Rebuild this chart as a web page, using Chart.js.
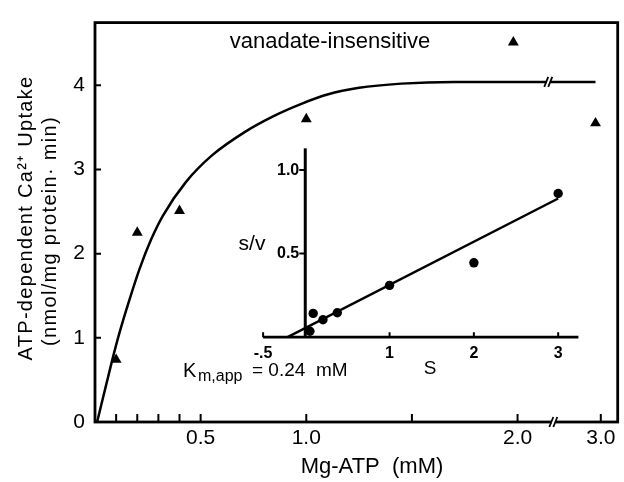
<!DOCTYPE html>
<html>
<head>
<meta charset="utf-8">
<script src="https://cdn.jsdelivr.net/npm/chart.js@4.4.0/dist/chart.umd.min.js"></script>
<style>
  html, body { margin: 0; padding: 0; background: #fff; }
</style>
</head>
<body>
<canvas id="uptake" width="624" height="482"></canvas>
<script>
// main plot : Mg-ATP (mM) vs ATP-dependent Ca2+ uptake
var mgAtp = [0.1, 0.2, 0.4, 1.0, 1.98, 2.95];
var uptake = [0.74, 2.25, 2.51, 3.60, 4.51, 3.55];

// hand drawn saturation curve
var curveX = [0.01, 0.078, 0.117, 0.164, 0.211, 0.266, 0.321, 0.43, 0.555, 0.712, 0.85, 0.977, 1.1, 1.25, 1.45, 1.7, 2.0, 2.95];
var curveY = [0, 0.70, 1.07, 1.46, 1.82, 2.17, 2.45, 2.85, 3.17, 3.45, 3.64, 3.78, 3.89, 3.97, 4.02, 4.04, 4.04, 4.04];

// inset : s/v against s
var insetS = [0.055, 0.094, 0.21, 0.38, 1.0, 2.0, 3.0];
var insetSV = [0.035, 0.142, 0.104, 0.146, 0.31, 0.445, 0.86];
var fitS = [-0.21, 3.0];
var fitSV = [0, 0.83];

// ticks
var xTicks = [0.1, 0.2, 0.3, 0.4, 0.5, 1.0, 1.5, 2.0, 3.0];
var xTickLabels = ['', '', '', '', '0.5', '1.0', '', '2.0', '3.0'];
var yTicks = [0, 1, 2, 3, 4];
var insetXTicks = [-0.5, 1, 2, 3];
var insetXLabels = ['-.5', '1', '2', '3'];
var insetYTicks = [0.5, 1.0];
var insetYLabels = ['0.5', '1.0'];

var FONT = "'Liberation Sans', Arial, sans-serif";

// the x axis is broken between 2.0 and 3.0
function brk(v) {
    return v > 2.2 ? 2.394 + (v - 3) * 0.5 : v;
}

var curvePts = [];
for (let i = 0; i < curveX.length; i++) {
    curvePts.push({ x: brk(curveX[i]), y: curveY[i] });
}
var triPts = [];
for (let i = 0; i < mgAtp.length; i++) {
    triPts.push({ x: brk(mgAtp[i]), y: uptake[i] });
}
var dotPts = [];
for (let i = 0; i < insetS.length; i++) {
    dotPts.push({ x: insetS[i], y: insetSV[i] });
}
var fitPts = [];
for (let i = 0; i < fitS.length; i++) {
    fitPts.push({ x: fitS[i], y: fitSV[i] });
}

function breakMark(ctx, x, y) {
    ctx.fillStyle = '#fff';
    ctx.fillRect(x - 2.5, y - 2.5, 4, 5);
    ctx.lineWidth = 1.8;
    ctx.beginPath();
    ctx.moveTo(x - 5, y + 5); ctx.lineTo(x - 1, y - 5);
    ctx.moveTo(x - 1, y + 5); ctx.lineTo(x + 3, y - 5);
    ctx.stroke();
}

var drawExtras = {
    id: 'drawExtras',
    afterDatasetsDraw: function (chart) {
        var ctx = chart.ctx;
        var a = chart.chartArea;
        var sx = chart.scales.x, sy = chart.scales.y;
        var ix = chart.scales.x2, iy = chart.scales.y2;
        ctx.save();
        ctx.strokeStyle = '#000';
        ctx.fillStyle = '#000';

        // frame
        ctx.lineWidth = 2.8;
        ctx.strokeRect(a.left, a.top, a.right - a.left, a.bottom - a.top);

        // inward ticks
        ctx.lineWidth = 2;
        ctx.beginPath();
        for (let i = 1; i < yTicks.length; i++) {
            var py = sy.getPixelForValue(yTicks[i]);
            ctx.moveTo(a.left, py); ctx.lineTo(a.left + 6, py);
        }
        for (let i = 0; i < xTicks.length; i++) {
            var px = sx.getPixelForValue(brk(xTicks[i]));
            ctx.moveTo(px, a.bottom); ctx.lineTo(px, a.bottom - 8);
        }
        ctx.stroke();

        // axis break and curve break
        breakMark(ctx, sx.getPixelForValue(2.174), a.bottom);
        breakMark(ctx, sx.getPixelForValue(2.15), sy.getPixelForValue(4.04));

        // inset axes
        var x0 = ix.getPixelForValue(0), y0 = iy.getPixelForValue(0);
        ctx.lineWidth = 3;
        ctx.beginPath();
        ctx.moveTo(x0, y0); ctx.lineTo(x0, iy.getPixelForValue(1.13));
        ctx.stroke();
        ctx.lineWidth = 2.7;
        ctx.beginPath();
        ctx.moveTo(ix.getPixelForValue(-0.5), y0); ctx.lineTo(ix.getPixelForValue(3.24), y0);
        ctx.stroke();
        ctx.lineWidth = 2;
        ctx.beginPath();
        for (let i = 0; i < insetXTicks.length; i++) {
            var tx = ix.getPixelForValue(insetXTicks[i]);
            ctx.moveTo(tx, y0); ctx.lineTo(tx, y0 - 5);
        }
        for (let i = 0; i < insetYTicks.length; i++) {
            var ty = iy.getPixelForValue(insetYTicks[i]);
            ctx.moveTo(x0 - 6, ty); ctx.lineTo(x0, ty);
        }
        ctx.stroke();

        ctx.fillStyle = '#000';
        ctx.textBaseline = 'middle';
        ctx.font = 'bold 16px ' + FONT;
        ctx.textAlign = 'center';
        for (let i = 0; i < insetXTicks.length; i++) {
            ctx.fillText(insetXLabels[i], ix.getPixelForValue(insetXTicks[i]), y0 + 16);
        }
        ctx.textAlign = 'right';
        for (let i = 0; i < insetYTicks.length; i++) {
            ctx.fillText(insetYLabels[i], x0 - 6, iy.getPixelForValue(insetYTicks[i]));
        }

        // texts
        ctx.textAlign = 'center';
        ctx.font = '21px ' + FONT;
        ctx.fillText('s/v', 252, 244);
        ctx.font = '22px ' + FONT;
        ctx.fillText('vanadate-insensitive', 330, 42);
        ctx.fillText('Mg-ATP  (mM)', 372, 467);
        ctx.font = '19px ' + FONT;
        ctx.fillText('S', 430, 369);

        ctx.textAlign = 'left';
        ctx.textBaseline = 'alphabetic';
        ctx.font = '20px ' + FONT;
        ctx.fillText('K', 183, 377);
        ctx.font = '16px ' + FONT;
        ctx.fillText('m,app', 198, 381);
        ctx.font = '19px ' + FONT;
        ctx.fillText('= 0.24  mM', 252, 376);

        // y title, two lines
        ctx.textAlign = 'center';
        ctx.textBaseline = 'middle';
        ctx.font = '20px ' + FONT;
        ctx.letterSpacing = '1.3px';
        ctx.save();
        ctx.translate(26, 218);
        ctx.rotate(-Math.PI / 2);
        ctx.fillText('ATP-dependent Ca²⁺ Uptake', 0, 0);
        ctx.restore();
        ctx.save();
        ctx.translate(50, 231);
        ctx.rotate(-Math.PI / 2);
        ctx.fillText('(nmol/mg protein· min)', 0, 0);
        ctx.restore();
        ctx.letterSpacing = '0px';
        ctx.restore();
    }
};

var ctx = document.getElementById('uptake').getContext('2d');
var chart = new Chart(ctx, {
    type: 'scatter',
    data: {
        datasets: [{
            data: curvePts,
            showLine: true,
            cubicInterpolationMode: 'monotone',
            borderColor: '#000',
            borderWidth: 2.5,
            pointRadius: 0,
            xAxisID: 'x',
            yAxisID: 'y'
        }, {
            data: triPts,
            pointStyle: 'triangle',
            pointRadius: 6.3,
            backgroundColor: '#000',
            borderColor: '#000',
            borderWidth: 0,
            xAxisID: 'x',
            yAxisID: 'y'
        }, {
            data: fitPts,
            showLine: true,
            borderColor: '#000',
            borderWidth: 2.5,
            pointRadius: 0,
            xAxisID: 'x2',
            yAxisID: 'y2'
        }, {
            data: dotPts,
            pointStyle: 'circle',
            pointRadius: 4.7,
            backgroundColor: '#000',
            borderColor: '#000',
            borderWidth: 0,
            xAxisID: 'x2',
            yAxisID: 'y2'
        }]
    },
    options: {
        responsive: false,
        animation: false,
        devicePixelRatio: 1,
        layout: { padding: { left: 0, right: 2, top: 14.6, bottom: 0 } },
        plugins: {
            legend: { display: false },
            tooltip: { enabled: false }
        },
        scales: {
            x: {
                type: 'linear',
                min: 0,
                max: 2.474,
                grid: { display: false, drawTicks: false },
                border: { display: false },
                afterBuildTicks: function (s) {
                    s.ticks = xTicks.map(function (v) { return { value: brk(v) }; });
                },
                afterFit: function (s) { s.height = 60; },
                ticks: {
                    autoSkip: false,
                    maxRotation: 0,
                    padding: 4,
                    color: '#000',
                    font: { family: FONT, size: 21 },
                    callback: function (value, index) { return xTickLabels[index]; }
                }
            },
            y: {
                type: 'linear',
                min: 0,
                max: 4.745,
                grid: { display: false, drawTicks: false },
                border: { display: false },
                afterBuildTicks: function (s) {
                    s.ticks = yTicks.map(function (v) { return { value: v }; });
                },
                afterFit: function (s) { s.width = 95; },
                ticks: {
                    padding: 10,
                    color: '#000',
                    font: { family: FONT, size: 21 },
                    callback: function (value) { return String(value); }
                }
            },
            x2: { type: 'linear', axis: 'x', position: 'bottom', display: false, min: -2.494, max: 3.706 },
            y2: { type: 'linear', axis: 'y', position: 'left', display: false, min: -0.508, max: 1.883 }
        }
    },
    plugins: [drawExtras]
});
</script>
</body>
</html>
